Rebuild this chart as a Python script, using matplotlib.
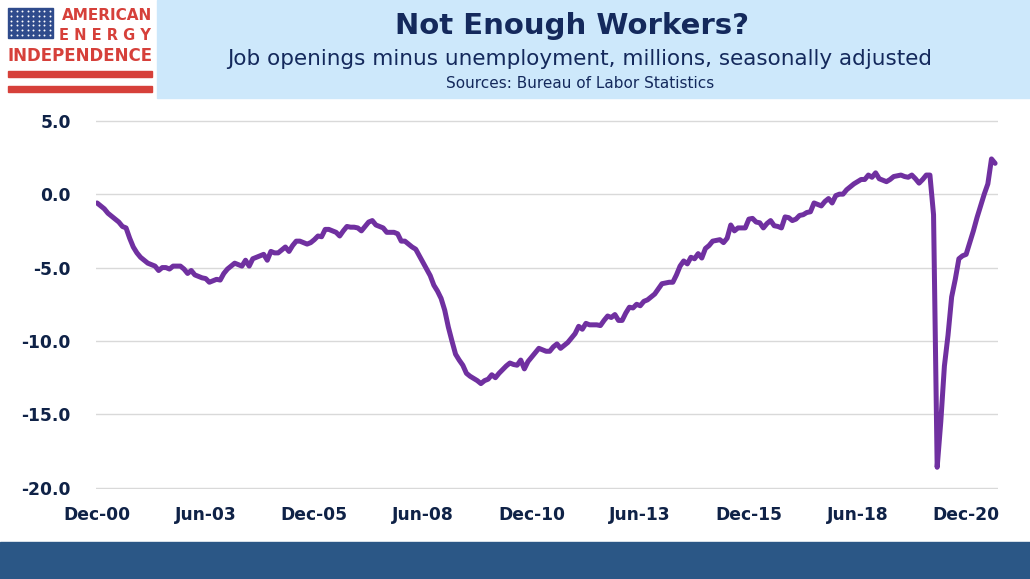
import numpy as np
import matplotlib
matplotlib.use("Agg")
import matplotlib.pyplot as plt
from matplotlib.patches import Rectangle

# openings minus unemployed, millions, monthly Dec 2000 .. Aug 2021
gap_2000 = [-0.6]
gap_2001 = [-0.8, -1.0, -1.3, -1.5, -1.7, -1.9, -2.2, -2.3, -3.0, -3.6, -4.0, -4.3]
gap_2002 = [-4.5, -4.7, -4.8, -4.9, -5.2, -5.0, -5.0, -5.1, -4.9, -4.9, -4.9, -5.1]
gap_2003 = [-5.4, -5.2, -5.5, -5.6, -5.7, -5.75, -6.0, -5.9, -5.8, -5.85, -5.4, -5.1]
gap_2004 = [-4.9, -4.7, -4.8, -4.9, -4.5, -4.9, -4.4, -4.3, -4.2, -4.1, -4.5, -3.9]
gap_2005 = [-4.0, -4.0, -3.8, -3.6, -3.9, -3.5, -3.2, -3.2, -3.3, -3.4, -3.3, -3.1]
gap_2006 = [-2.85, -2.9, -2.4, -2.4, -2.5, -2.6, -2.85, -2.5, -2.2, -2.25, -2.25, -2.3]
gap_2007 = [-2.5, -2.2, -1.9, -1.8, -2.1, -2.2, -2.3, -2.6, -2.6, -2.6, -2.7, -3.2]
gap_2008 = [-3.2, -3.4, -3.6, -3.75, -4.2, -4.65, -5.1, -5.55, -6.2, -6.6, -7.1, -7.9]
gap_2009 = [-9.05, -10.0, -10.9, -11.3, -11.65, -12.2, -12.4, -12.55, -12.7, -12.9, -12.7, -12.6]
gap_2010 = [-12.3, -12.5, -12.2, -11.95, -11.7, -11.5, -11.6, -11.65, -11.3, -11.9, -11.4, -11.1]
gap_2011 = [-10.8, -10.5, -10.6, -10.7, -10.7, -10.4, -10.2, -10.5, -10.3, -10.1, -9.8, -9.5]
gap_2012 = [-9.0, -9.2, -8.8, -8.9, -8.9, -8.9, -8.95, -8.6, -8.3, -8.4, -8.2, -8.6]
gap_2013 = [-8.6, -8.1, -7.7, -7.75, -7.5, -7.6, -7.3, -7.2, -7.0, -6.8, -6.45, -6.1]
gap_2014 = [-6.05, -6.0, -6.0, -5.5, -4.9, -4.55, -4.75, -4.3, -4.4, -4.05, -4.35, -3.7]
gap_2015 = [-3.5, -3.2, -3.15, -3.1, -3.3, -3.0, -2.1, -2.5, -2.3, -2.3, -2.3, -1.7]
gap_2016 = [-1.65, -1.9, -1.95, -2.3, -2.0, -1.8, -2.15, -2.2, -2.3, -1.55, -1.6, -1.8]
gap_2017 = [-1.7, -1.45, -1.4, -1.25, -1.2, -0.6, -0.7, -0.8, -0.5, -0.3, -0.6, -0.1]
gap_2018 = [0.0, 0.0, 0.3, 0.5, 0.7, 0.85, 1.0, 1.0, 1.3, 1.15, 1.45, 1.05]
gap_2019 = [0.95, 0.85, 1.0, 1.2, 1.25, 1.3, 1.2, 1.15, 1.3, 1.05, 0.75, 1.0]
gap_2020 = [1.3, 1.3, -1.4, -18.6, -15.5, -11.7, -9.6, -7.0, -5.8, -4.4, -4.2, -4.1]
gap_2021 = [-3.3, -2.5, -1.6, -0.8, 0.0, 0.7, 2.4, 2.1]

gap = (gap_2000 + gap_2001 + gap_2002 + gap_2003 + gap_2004 + gap_2005
       + gap_2006 + gap_2007 + gap_2008 + gap_2009 + gap_2010 + gap_2011
       + gap_2012 + gap_2013 + gap_2014 + gap_2015 + gap_2016 + gap_2017
       + gap_2018 + gap_2019 + gap_2020 + gap_2021)

tick_labels = ["Dec-00", "Jun-03", "Dec-05", "Jun-08", "Dec-10",
               "Jun-13", "Dec-15", "Jun-18", "Dec-20"]
y_ticks = [5, 0, -5, -10, -15, -20]

navy = "#0f2247"
red = "#d6403a"

W, H = 1030, 579
fig = plt.figure(figsize=(W / 100, H / 100), dpi=100)

# header band
fig.patches.append(Rectangle((157 / W, 1 - 98 / H), 1 - 157 / W, 98 / H,
                             transform=fig.transFigure, color="#cde8fb", zorder=0))
# footer band
fig.patches.append(Rectangle((0, 0), 1, 37 / H, transform=fig.transFigure,
                             color="#2b5786", zorder=0))

fig.text(572 / W, 1 - 26 / H, "Not Enough Workers?", ha="center", va="center",
         fontsize=21, fontweight="bold", color="#14295c")
fig.text(580 / W, 1 - 59 / H, "Job openings minus unemployment, millions, seasonally adjusted",
         ha="center", va="center", fontsize=15.5, color="#14295c")
fig.text(580 / W, 1 - 84 / H, "Sources: Bureau of Labor Statistics",
         ha="center", va="center", fontsize=11, color="#14295c")

# logo
lg = fig.add_axes([0, 1 - 100 / H, 157 / W, 100 / H])
lg.set_xlim(0, 157)
lg.set_ylim(100, 0)
lg.axis("off")
lg.add_patch(Rectangle((8, 8), 45, 30, color="#2f4b8c"))
sx, sy = np.meshgrid(np.linspace(11, 50, 8), np.linspace(11, 35, 6))
lg.scatter(sx.ravel(), sy.ravel(), s=2, color="white", lw=0)
lg.text(152, 15, "AMERICAN", ha="right", va="center", fontsize=11,
        fontweight="bold", color=red)
lg.text(151, 35, "E N E R G Y", ha="right", va="center", fontsize=10.5,
        fontweight="bold", color=red)
lg.text(80, 56, "INDEPENDENCE", ha="center", va="center", fontsize=12,
        fontweight="bold", color=red)
lg.add_patch(Rectangle((8, 71), 144, 6, color=red))
lg.add_patch(Rectangle((8, 86), 144, 6, color=red))

# chart
ax = fig.add_axes([96 / W, 1 - 489 / H, 902 / W, 369 / H])
months = np.arange(len(gap))
ax.plot(months, gap, color="#7030a0", lw=3.6, solid_joinstyle="round",
        solid_capstyle="round", zorder=3)

ax.set_xlim(-0.3, 248.8)
ax.set_ylim(-20.08, 5.05)
ax.set_yticks(y_ticks)
ax.set_yticklabels([f"{v:.1f}" for v in y_ticks])
ax.set_xticks(np.arange(0, 241, 30))
ax.set_xticklabels(tick_labels)
ax.grid(axis="y", color="#d9d9d9", lw=1)
ax.set_axisbelow(True)
for s in ax.spines.values():
    s.set_visible(False)
ax.tick_params(axis="both", length=0, colors=navy)
ax.tick_params(axis="y", pad=18)
ax.tick_params(axis="x", pad=12)
for lab in ax.get_xticklabels() + ax.get_yticklabels():
    lab.set_fontweight("bold")
    lab.set_fontsize(12.3)

fig.savefig("out.png", dpi=100)
